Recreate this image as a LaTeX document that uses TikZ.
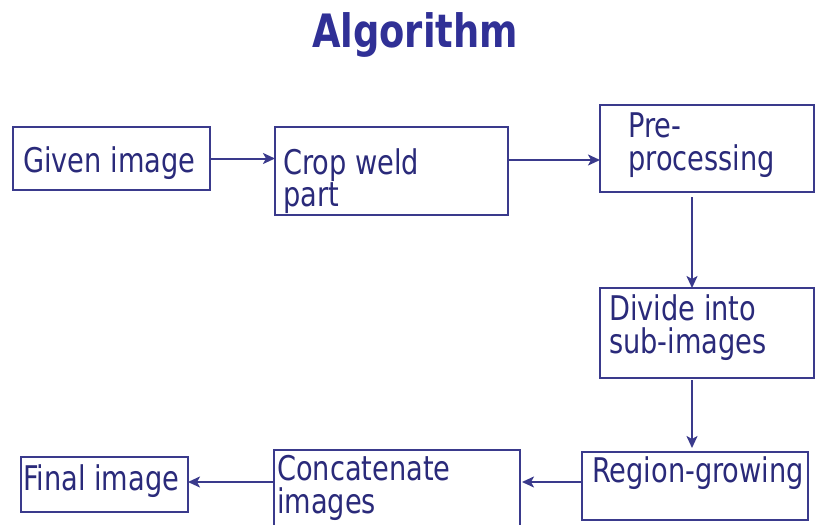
\documentclass[tikz,border=0pt]{standalone}
\usepackage{fontspec}
\setmainfont{DejaVu Sans Condensed}[FakeStretch=0.89]
\usetikzlibrary{arrows.meta,calc}
\definecolor{boxblue}{RGB}{58,58,140}
\definecolor{txtblue}{RGB}{42,42,122}
\definecolor{titleblue}{RGB}{48,48,150}
\begin{document}
\begin{tikzpicture}[x=1pt,y=-1pt,
 box/.style={draw=boxblue,line width=2pt,inner sep=0pt,outer sep=0pt,anchor=north west,rectangle},
 lbl/.style={anchor=base west,inner sep=0pt,text=txtblue,font=\fontsize{34}{37}\selectfont},
 arr/.style={draw=boxblue,line width=2pt,-{Stealth[length=12pt,width=11pt,inset=3pt]}}]
\useasboundingbox (0,0) rectangle (817,525);
\node[anchor=base,inner sep=0pt,text=titleblue,font=\fontsize{46}{50}\selectfont\bfseries] (title) at (415,47) {Algorithm};
% boxes
\node[box,minimum width=197pt,minimum height=63pt] (given) at (13,127) {};
\node[box,minimum width=233pt,minimum height=88pt] (crop) at (275,127) {};
\node[box,minimum width=214pt,minimum height=87pt] (pre) at (600,105) {};
\node[box,minimum width=214pt,minimum height=90pt] (divide) at (600,288) {};
\node[box,minimum width=226pt,minimum height=68pt] (region) at (582,452) {};
\node[box,minimum width=246pt,minimum height=85pt] (concat) at (274,450) {};
\node[box,minimum width=167pt,minimum height=55pt] (final) at (21,457) {};
% texts
\node[lbl] (tgiven) at (23,172) {Given image};
\node[lbl] (tcrop1) at (283,174) {Crop weld};
\node[lbl] (tcrop2) at (283,206) {part};
\node[lbl] (tpre1) at (628,137) {Pre-};
\node[lbl] (tpre2) at (628,170) {processing};
\node[lbl] (tdiv1) at (609,320) {Divide into};
\node[lbl] (tdiv2) at (609,353) {sub-images};
\node[lbl] (treg) at (592,482) {Region-growing};
\node[lbl] (tcon1) at (277,480) {Concatenate};
\node[lbl] (tcon2) at (277,513) {images};
\node[lbl] (tfin) at (23,490) {Final image};
% arrows
\draw[arr] (given.east) -- (given.east -| crop.west);
\draw[arr] ($(crop.north east)+(0,33)$) -- ($(pre.north west)+(0,55)$);
\draw[arr] ($(pre.south west)+(92,5)$) -- ($(divide.north west)+(92,0)$);
\draw[arr] ($(divide.south west)+(92,2)$) -- ($(region.north west)+(110,-4)$);
\draw[arr] ($(region.north west)+(0,30)$) -- ($(concat.north east)+(2,32)$);
\draw[arr] ($(concat.north west)+(0,32)$) -- ($(final.north east)+(0,25)$);
\end{tikzpicture}
\end{document}
